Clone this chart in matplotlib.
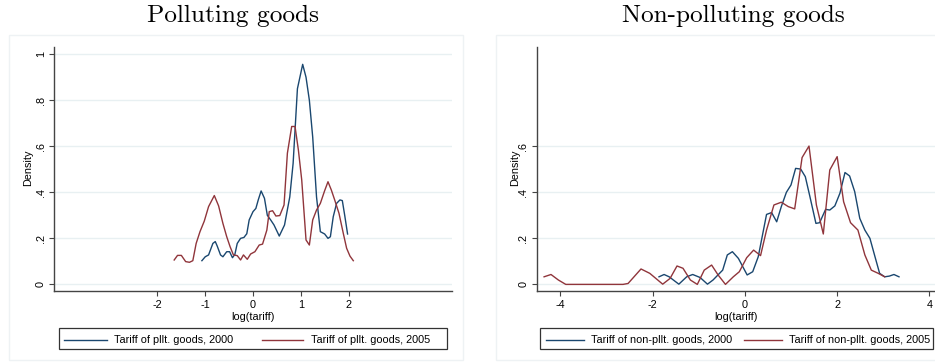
import matplotlib
matplotlib.use('Agg')
import matplotlib.pyplot as plt
from matplotlib.patches import Rectangle
from matplotlib.lines import Line2D

# Kernel density curves (x = log(tariff), y = density)
pol_x_2000 = [-1.07, -1.0, -0.93, -0.84, -0.79, -0.75, -0.68, -0.63, -0.55, -0.49, -0.43, -0.38,
              -0.33, -0.26, -0.19, -0.13, -0.08, 0.0, 0.06, 0.11, 0.17, 0.24, 0.3, 0.37, 0.44,
              0.55, 0.66, 0.77, 0.84, 0.93, 1.04, 1.11, 1.18, 1.25, 1.33, 1.41, 1.5, 1.57, 1.62,
              1.68, 1.75, 1.82, 1.87, 1.92, 1.98]
pol_y_2000 = [0.103, 0.12, 0.128, 0.178, 0.186, 0.167, 0.128, 0.12, 0.142, 0.142, 0.116, 0.13,
              0.178, 0.2, 0.204, 0.22, 0.28, 0.316, 0.33, 0.367, 0.406, 0.374, 0.3, 0.28, 0.258,
              0.21, 0.258, 0.38, 0.526, 0.85, 0.956, 0.9, 0.8, 0.64, 0.38, 0.229, 0.219, 0.2, 0.207,
              0.294, 0.352, 0.367, 0.364, 0.3, 0.219]

pol_x_2005 = [-1.65, -1.58, -1.5, -1.41, -1.33, -1.26, -1.19, -1.11, -1.02, -0.93, -0.81, -0.72,
              -0.63, -0.55, -0.48, -0.41, -0.33, -0.26, -0.2, -0.12, -0.05, 0.04, 0.13, 0.2, 0.29,
              0.34, 0.41, 0.48, 0.56, 0.65, 0.72, 0.81, 0.88, 0.95, 1.02, 1.11, 1.18, 1.25, 1.33,
              1.41, 1.5, 1.57, 1.64, 1.71, 1.8, 1.89, 1.96, 2.03, 2.1]
pol_y_2005 = [0.106, 0.126, 0.126, 0.099, 0.096, 0.103, 0.178, 0.229, 0.275, 0.338, 0.386, 0.341,
              0.265, 0.207, 0.164, 0.128, 0.125, 0.106, 0.128, 0.109, 0.132, 0.142, 0.171, 0.175,
              0.236, 0.316, 0.32, 0.297, 0.299, 0.345, 0.57, 0.686, 0.686, 0.584, 0.454, 0.193,
              0.171, 0.28, 0.323, 0.352, 0.407, 0.446, 0.41, 0.367, 0.309, 0.222, 0.157, 0.123, 0.103]

non_x_2000 = [-1.86, -1.75, -1.64, -1.43, -1.26, -1.13, -0.97, -0.81, -0.69, -0.48, -0.38, -0.27,
              -0.14, 0.05, 0.17, 0.29, 0.47, 0.58, 0.69, 0.79, 0.9, 1.0, 1.1, 1.21, 1.31, 1.41,
              1.54, 1.62, 1.75, 1.84, 1.95, 2.06, 2.17, 2.27, 2.38, 2.49, 2.6, 2.71, 2.82, 2.92,
              3.03, 3.13, 3.23, 3.34]
non_y_2000 = [0.033, 0.043, 0.033, 0.001, 0.033, 0.043, 0.03, 0.001, 0.019, 0.062, 0.128, 0.142,
              0.113, 0.041, 0.055, 0.12, 0.304, 0.312, 0.272, 0.338, 0.4, 0.432, 0.504, 0.501,
              0.468, 0.381, 0.265, 0.268, 0.326, 0.323, 0.341, 0.396, 0.486, 0.471, 0.403, 0.287,
              0.236, 0.2, 0.12, 0.048, 0.033, 0.036, 0.043, 0.033]

non_x_2005 = [-4.35, -4.2, -4.04, -3.88, -2.64, -2.53, -2.25, -2.06, -1.78, -1.62, -1.47, -1.34,
              -1.18, -1.03, -0.88, -0.72, -0.58, -0.42, -0.25, -0.12, 0.04, 0.19, 0.34, 0.47, 0.63,
              0.79, 0.94, 1.08, 1.24, 1.39, 1.55, 1.7, 1.84, 2.0, 2.14, 2.29, 2.45, 2.6, 2.74,
              2.89, 3.03]
non_y_2005 = [0.033, 0.043, 0.019, 0.0, 0.0, 0.004, 0.067, 0.048, 0.001, 0.026, 0.08, 0.07,
              0.019, 0.0, 0.062, 0.084, 0.041, 0.0, 0.033, 0.055, 0.116, 0.149, 0.125, 0.236, 0.345,
              0.357, 0.338, 0.328, 0.551, 0.601, 0.345, 0.219, 0.497, 0.555, 0.359, 0.268, 0.236,
              0.128, 0.062, 0.048, 0.033]

pol_yticks = [0, 0.2, 0.4, 0.6, 0.8, 1.0]
pol_ylabels = ['0', '.2', '.4', '.6', '.8', '1']
pol_xticks = [-2, -1, 0, 1, 2]
non_yticks = [0, 0.2, 0.4, 0.6]
non_ylabels = ['0', '.2', '.4', '.6']
non_xticks = [-4, -2, 0, 2, 4]

navy = '#1a476f'
maroon = '#90353b'
grid_col = '#e8f0f2'
axis_col = '#444444'
sans = ['Liberation Sans', 'DejaVu Sans']
fs = 7.8

W, H = 935, 364
fig = plt.figure(figsize=(W / 100, H / 100), dpi=100)


def px(x0, y0, x1, y1):
    # pixel box -> figure fraction [left, bottom, width, height]
    return [x0 / W, 1 - y1 / H, (x1 - x0) / W, (y1 - y0) / H]


# light panel borders
for bx0, bx1 in [(9, 463), (496, 940)]:
    fig.patches.append(Rectangle((bx0 / W, 1 - 360 / H), (bx1 - bx0) / W, 325 / H,
                                 transform=fig.transFigure, fill=False,
                                 edgecolor='#eef2f4', linewidth=1.0))

panels = [
    dict(box=(54.3, 47.3, 451.7, 291.3), xlim=(-4.16, 4.16),
         x1=pol_x_2000, y1=pol_y_2000, x2=pol_x_2005, y2=pol_y_2005,
         yt=pol_yticks, yl=pol_ylabels, xt=pol_xticks,
         title='Polluting goods', tx=233, ylab_x=28,
         labels=['Tariff of pllt. goods, 2000', 'Tariff of pllt. goods, 2005'],
         leg=(58.7, 328, 446.7, 349), l1=(64, 107), t1=114, l2=(262, 303), t2=311),
    dict(box=(536.7, 47.3, 935, 291.3), xlim=(-4.51, 4.12),
         x1=non_x_2000, y1=non_y_2000, x2=non_x_2005, y2=non_y_2005,
         yt=non_yticks, yl=non_ylabels, xt=non_xticks,
         title='Non-polluting goods', tx=733, ylab_x=515,
         labels=['Tariff of non-pllt. goods, 2000', 'Tariff of non-pllt. goods, 2005'],
         leg=(540, 328, 932.7, 349), l1=(546, 584), t1=591, l2=(744, 782), t2=789),
]

for p in panels:
    ax = fig.add_axes(px(*p['box']))
    ax.set_xlim(*p['xlim'])
    ax.set_ylim(-0.03, 1.03)
    for t in p['yt']:
        ax.axhline(t, color=grid_col, linewidth=1.0, zorder=0)
    ax.plot(p['x1'], p['y1'], color=navy, linewidth=1.0)
    ax.plot(p['x2'], p['y2'], color=maroon, linewidth=1.0)
    for s in ['top', 'right']:
        ax.spines[s].set_visible(False)
    for s in ['left', 'bottom']:
        ax.spines[s].set_color(axis_col)
        ax.spines[s].set_linewidth(1.0)
    ax.set_yticks(p['yt'])
    ax.set_yticklabels(p['yl'], rotation=90, va='center', family=sans, fontsize=fs)
    ax.set_xticks(p['xt'])
    ax.set_xticklabels([str(v) for v in p['xt']], family=sans, fontsize=fs)
    ax.tick_params(direction='out', length=3.5, width=0.8, color=axis_col, pad=2.5)
    ax.set_xlabel('log(tariff)', family=sans, fontsize=fs, labelpad=2)
    ax.set_facecolor('white')

    fig.text(p['ylab_x'] / W, 1 - 168 / H, 'Density', rotation=90, ha='center', va='center',
             family=sans, fontsize=fs)
    fig.text(p['tx'] / W, 1 - 16 / H, p['title'], ha='center', va='center',
             family='cmr10', fontsize=18.2)

    # legend drawn by hand in pixel positions
    lx0, ly0, lx1, ly1 = p['leg']
    fig.patches.append(Rectangle((lx0 / W, 1 - ly1 / H), (lx1 - lx0) / W, (ly1 - ly0) / H,
                                 transform=fig.transFigure, fill=False,
                                 edgecolor='#333333', linewidth=0.9))
    ly = 1 - 340 / H
    for (a, b), tx, col, lab in [(p['l1'], p['t1'], navy, p['labels'][0]),
                                 (p['l2'], p['t2'], maroon, p['labels'][1])]:
        fig.lines.append(Line2D([a / W, b / W], [ly, ly], transform=fig.transFigure,
                                color=col, linewidth=1.0))
        fig.text(tx / W, ly, lab, ha='left', va='center', family=sans, fontsize=fs)

fig.savefig('out.png', dpi=100, facecolor='white')
